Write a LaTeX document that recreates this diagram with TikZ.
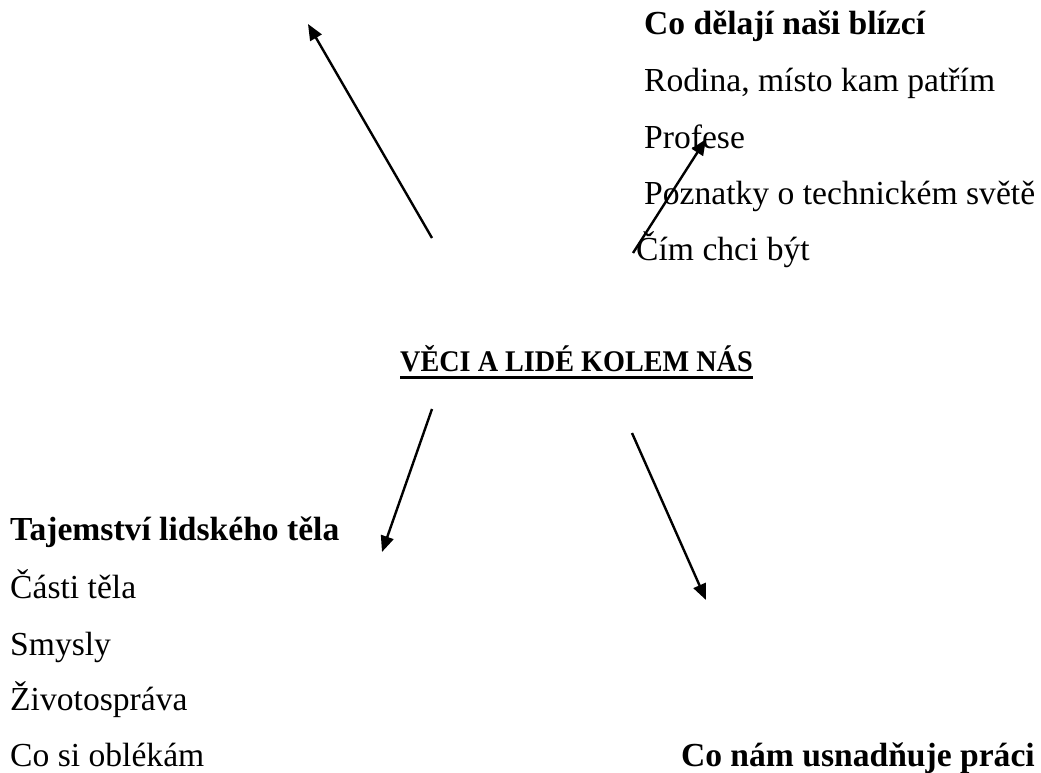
\documentclass[tikz,border=0pt]{standalone}
\usepackage{fontspec}
\setmainfont{Liberation Serif}
\usetikzlibrary{arrows.meta}
\tikzset{
  txt/.style={anchor=base west, inner sep=0pt, font=\fontsize{33.6}{40}\selectfont},
  txtb/.style={txt, font=\fontsize{33.6}{40}\selectfont\bfseries},
  arr/.style={line width=2.4pt, -{Triangle[length=16pt,width=13pt]}}
}
\begin{document}
\begin{tikzpicture}[x=1pt,y=-1pt]
\useasboundingbox (0,0) rectangle (1041,773);
% top right group
\node[txtb] (h1) at (644,35) {Co dělají naši blízcí};
\node[txt] (a1) at (644,92) {Rodina, místo kam patřím};
\node[txt] (a2) at (644,148) {Profese};
\node[txt] (a3) at (644,204) {Poznatky o technickém světě};
\node[txt] (a4) at (636,260) {Čím chci být};
% title
\node[anchor=base west, inner sep=0pt, font=\fontsize{30}{36}\selectfont\bfseries] (title) at (400,371)
  {\scalebox{0.94}[1]{VĚCI A LIDÉ KOLEM NÁS}};
\draw[line width=2.8pt] ([yshift=-6.5pt]title.base west) -- ([yshift=-6.5pt]title.base east);
% bottom left group
\node[txtb] (h2) at (10,540) {Tajemství lidského těla};
\node[txt] (b1) at (10,598) {Části těla};
\node[txt] (b2) at (10,655) {Smysly};
\node[txt] (b3) at (10,710) {Životospráva};
\node[txt] (b4) at (10,766) {Co si oblékám};
% bottom right
\node[txtb, anchor=base east] (h3) at (1035,766) {Co nám usnadňuje práci};
% arrow coordinates
\coordinate (s1) at (432,238);
\coordinate (t1) at (308,24);
\coordinate (s2) at (633,253);
\coordinate (t2) at (706,139);
\coordinate (s3) at (432,409);
\coordinate (t3) at (382,552);
\coordinate (s4) at (632,433);
\coordinate (t4) at (706,600);
\draw[arr] (s1) -- (t1);
\draw[arr] (s2) -- (t2);
\draw[arr] (s3) -- (t3);
\draw[arr] (s4) -- (t4);
\end{tikzpicture}
\end{document}
